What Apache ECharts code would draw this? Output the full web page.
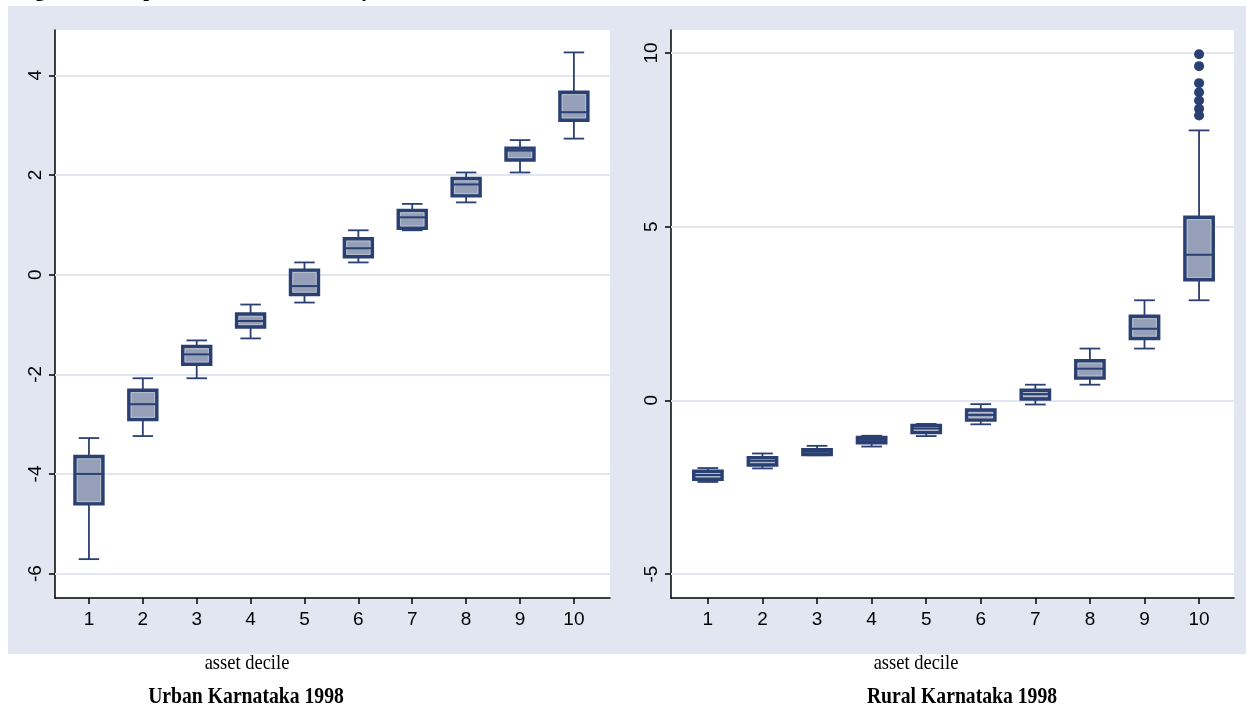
<!DOCTYPE html>
<html><head><meta charset="utf-8">
<script src="https://cdn.jsdelivr.net/npm/echarts@6/dist/echarts.min.js"></script>
<style>html,body{margin:0;padding:0;background:#fff;overflow:hidden;} #c{width:1246px;height:716px;}</style>
</head><body><div id="c"></div>
<script>
// ---- data ----
const deciles = [1, 2, 3, 4, 5, 6, 7, 8, 9, 10];

const urbanLow    = [-5.71, -3.24, -2.08, -1.28, -0.56, 0.245, 0.89, 1.45, 2.05, 2.73];
const urbanQ1     = [-4.60, -2.91, -1.80, -1.05, -0.40, 0.36, 0.93, 1.58, 2.30, 3.10];
const urbanMedian = [-4.00, -2.60, -1.60, -0.93, -0.23, 0.53, 1.15, 1.81, 2.49, 3.26];
const urbanQ3     = [-3.65, -2.32, -1.44, -0.79, 0.09, 0.72, 1.29, 1.93, 2.54, 3.66];
const urbanHigh   = [-3.28, -2.08, -1.32, -0.60, 0.245, 0.89, 1.42, 2.05, 2.70, 4.46];

const ruralLow    = [-2.35, -1.96, -1.58, -1.33, -1.03, -0.69, -0.12, 0.45, 1.49, 2.88];
const ruralQ1     = [-2.27, -1.86, -1.56, -1.22, -0.93, -0.57, 0.04, 0.64, 1.78, 3.47];
const ruralMedian = [-2.15, -1.74, -1.48, -1.14, -0.81, -0.42, 0.18, 0.91, 2.06, 4.19];
const ruralQ3     = [-2.04, -1.65, -1.42, -1.07, -0.72, -0.28, 0.29, 1.14, 2.42, 5.27];
const ruralHigh   = [-1.95, -1.53, -1.31, -1.02, -0.68, -0.11, 0.45, 1.49, 2.88, 7.77];
const ruralOutliersDecile10 = [8.20, 8.39, 8.63, 8.87, 9.13, 9.62, 9.96];

const urbanYTicks = [-6, -4, -2, 0, 2, 4];
const ruralYTicks = [-5, 0, 5, 10];
const xTickLabels = deciles;

const xAxisTitle = 'asset decile';
const urbanTitle = 'Urban Karnataka 1998';
const ruralTitle = 'Rural Karnataka 1998';
const figureTitle = 'Figure 4: Box plots of the asset index by asset decile';

// ---- styling ----
const NAVY = '#2a3f72';
const FILL = '#95a0b8';
const GRID = '#e1e6f0';
const BG = '#e1e6f0';
const TICKFONT = "'Liberation Sans Narrow', 'Arial Narrow', 'Liberation Sans', Arial, sans-serif";
const SERIF = "'Liberation Serif', 'Times New Roman', serif";

function boxData(lo, q1, md, q3, hi) {
  return deciles.map((d, i) => [d, lo[i], q1[i], md[i], q3[i], hi[i]]);
}

function renderBox(params, api) {
  const x = api.value(0);
  const unit = api.size([1, 0])[0];
  const bw = unit * 0.52, cw = unit * 0.38;
  const pl = api.coord([x, api.value(1)]);
  const p1 = api.coord([x, api.value(2)]);
  const pm = api.coord([x, api.value(3)]);
  const p3 = api.coord([x, api.value(4)]);
  const ph = api.coord([x, api.value(5)]);
  const cx = pl[0];
  const lw = { stroke: NAVY, lineWidth: 1.8 };
  const h = p1[1] - p3[1];
  const children = [
    { type: 'line', shape: { x1: cx, y1: ph[1], x2: cx, y2: p3[1] }, style: lw },
    { type: 'line', shape: { x1: cx, y1: p1[1], x2: cx, y2: pl[1] }, style: lw },
    { type: 'line', shape: { x1: cx - cw / 2, y1: ph[1], x2: cx + cw / 2, y2: ph[1] }, style: lw },
    { type: 'line', shape: { x1: cx - cw / 2, y1: pl[1], x2: cx + cw / 2, y2: pl[1] }, style: lw },
    { type: 'rect', shape: { x: cx - bw / 2, y: p3[1], width: bw, height: h }, style: { fill: FILL, stroke: NAVY, lineWidth: 3.4 } }
  ];
  if (h > 7) {
    children.push({ type: 'rect', shape: { x: cx - bw / 2 + 2.4, y: p3[1] + 2.4, width: bw - 4.8, height: h - 4.8 },
      style: { fill: null, stroke: '#c3c9d8', lineWidth: 0.7 } });
  }
  children.push({ type: 'line', shape: { x1: cx - bw / 2, y1: pm[1], x2: cx + bw / 2, y2: pm[1] }, style: { stroke: NAVY, lineWidth: 2 } });
  return { type: 'group', children };
}

function xAxisCfg(gi, min, max) {
  return {
    type: 'value', gridIndex: gi, min, max,
    axisLine: { show: true, onZero: false, lineStyle: { color: '#000', width: 1.5 } },
    axisTick: { show: true, customValues: xTickLabels, length: 6, lineStyle: { color: '#000', width: 1.5 } },
    axisLabel: { customValues: xTickLabels, color: '#000', fontSize: 19, fontFamily: TICKFONT, margin: 12 },
    splitLine: { show: false }
  };
}
function yAxisCfg(gi, min, max, ticks) {
  return {
    type: 'value', gridIndex: gi, min, max,
    axisLine: { show: true, onZero: false, lineStyle: { color: '#000', width: 1.5 } },
    axisTick: { show: true, customValues: ticks, length: 6, lineStyle: { color: '#000', width: 1.5 } },
    axisLabel: { customValues: ticks, rotate: 90, color: '#000', fontSize: 19, fontFamily: TICKFONT, margin: 10 },
    splitLine: { show: false }
  };
}
function gridLines(ti, ticks) {
  return {
    type: 'line', xAxisIndex: ti, yAxisIndex: ti, data: [], z: 1, silent: true,
    markLine: { silent: true, z: 1, symbol: 'none', animation: false, label: { show: false },
      lineStyle: { color: GRID, width: 2, type: 'solid' },
      data: ticks.map(v => ({ yAxis: v })) }
  };
}

const chart = echarts.init(document.getElementById('c'), null, { renderer: 'canvas' });
chart.setOption({
  animation: false,
  backgroundColor: '#fff',
  graphic: [
    { type: 'rect', z: -100, shape: { x: 8, y: 6, width: 1238, height: 648 }, style: { fill: BG } },
    { type: 'text', left: 16, top: -20, z: -50, style: { text: figureTitle, font: "bold 21px " + SERIF, fill: '#000' } },
    { type: 'text', x: 247, y: 663, scaleX: 0.88, style: { text: xAxisTitle, font: "21px " + SERIF, fill: '#000', align: 'center', verticalAlign: 'middle' } },
    { type: 'text', x: 246, y: 697, scaleX: 0.82, style: { text: urbanTitle, font: "bold 24px " + SERIF, fill: '#000', align: 'center', verticalAlign: 'middle' } },
    { type: 'text', x: 916, y: 663, scaleX: 0.88, style: { text: xAxisTitle, font: "21px " + SERIF, fill: '#000', align: 'center', verticalAlign: 'middle' } },
    { type: 'text', x: 962, y: 697, scaleX: 0.82, style: { text: ruralTitle, font: "bold 24px " + SERIF, fill: '#000', align: 'center', verticalAlign: 'middle' } }
  ],
  grid: [
    { left: 55, top: 30, width: 555, height: 568, show: true, backgroundColor: '#fff', borderWidth: 0 },
    { left: 671, top: 30, width: 563, height: 568, show: true, backgroundColor: '#fff', borderWidth: 0 }
  ],
  xAxis: [xAxisCfg(0, 0.37, 10.67), xAxisCfg(1, 0.324, 10.64)],
  yAxis: [yAxisCfg(0, -6.49, 4.91, urbanYTicks), yAxisCfg(1, -5.69, 10.66, ruralYTicks)],
  series: [
    gridLines(0, urbanYTicks),
    gridLines(1, ruralYTicks),
    { type: 'custom', xAxisIndex: 0, yAxisIndex: 0, z: 10, renderItem: renderBox,
      encode: { x: 0, y: [1, 2, 3, 4, 5] }, data: boxData(urbanLow, urbanQ1, urbanMedian, urbanQ3, urbanHigh) },
    { type: 'custom', xAxisIndex: 1, yAxisIndex: 1, z: 10, renderItem: renderBox,
      encode: { x: 0, y: [1, 2, 3, 4, 5] }, data: boxData(ruralLow, ruralQ1, ruralMedian, ruralQ3, ruralHigh) },
    { type: 'scatter', xAxisIndex: 1, yAxisIndex: 1, z: 11, symbol: 'circle', symbolSize: 10,
      itemStyle: { color: NAVY, opacity: 1 }, data: ruralOutliersDecile10.map(v => [10, v]) }
  ]
});
</script>
</body></html>
